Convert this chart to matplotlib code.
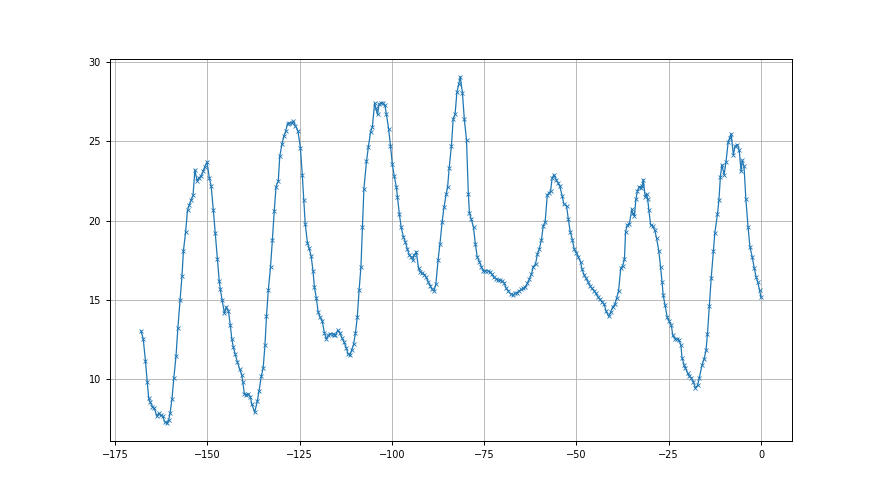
import matplotlib

matplotlib.use("Agg")
import matplotlib.pyplot as plt
import numpy as np

plt.rcParams.update(
    {
        "font.size": 7,
        "axes.linewidth": 0.7,
        "xtick.major.width": 0.7,
        "ytick.major.width": 0.7,
        "xtick.major.size": 3,
        "ytick.major.size": 3,
    }
)

# hours relative to now
hours = [
    -168.0, -167.4, -166.8, -166.3, -165.9, -165.5, -164.9, -164.4, -163.7, -163.2,
    -162.7, -162.1, -161.6, -161.0, -160.5, -160.1, -159.6, -159.1, -158.5, -158.0,
    -157.4, -156.9, -156.5, -155.9, -155.4, -154.9, -154.4, -153.9, -153.4, -152.8,
    -152.3, -151.7, -151.2, -150.7, -150.1, -149.5, -149.0, -148.4, -147.9, -147.3,
    -146.8, -146.5, -146.0, -145.4, -144.9, -144.3, -143.8, -143.4, -143.0, -142.5,
    -141.9, -141.3, -140.7, -140.4, -140.0, -139.5, -139.0, -138.4, -138.0, -137.2,
    -136.5, -136.0, -135.4, -134.9, -134.4, -134.0, -133.5, -132.9, -132.4, -131.9,
    -131.4, -130.8, -130.4, -129.8, -129.3, -128.8, -128.3, -127.8, -127.2, -126.7,
    -126.2, -125.5, -124.8, -124.3, -123.9, -123.5, -122.9, -122.5, -121.9, -121.4,
    -121.0, -120.5, -120.0, -119.5, -118.9, -118.3, -117.8, -117.2, -116.7, -116.1,
    -115.7, -115.3, -114.7, -114.1, -113.5, -113.0, -112.4, -111.9, -111.4, -110.9,
    -110.4, -109.9, -109.4, -108.9, -108.4, -108.0, -107.6, -106.9, -106.4, -105.8,
    -105.3, -104.7, -104.4, -103.9, -103.5, -102.9, -102.4, -101.9, -101.5, -100.9,
    -100.4, -99.9, -99.4, -98.8, -98.5, -98.0, -97.5, -96.9, -96.4, -95.8,
    -95.3, -94.8, -94.4, -93.9, -93.4, -92.8, -92.3, -91.8, -91.2, -90.7,
    -90.1, -89.6, -89.1, -88.6, -88.1, -87.5, -87.0, -86.4, -85.9, -85.3,
    -84.9, -84.5, -83.9, -83.4, -82.9, -82.4, -81.9, -81.5, -80.9, -80.4,
    -79.8, -79.3, -79.0, -78.5, -77.9, -77.4, -76.9, -76.3, -75.8, -75.2,
    -74.7, -74.1, -73.5, -72.9, -72.4, -71.8, -71.2, -70.7, -70.3, -69.6,
    -69.1, -68.5, -67.8, -67.1, -66.6, -66.0, -65.5, -64.9, -64.4, -63.9,
    -63.3, -62.8, -62.2, -61.7, -61.1, -60.6, -60.1, -59.5, -59.0, -58.5,
    -57.9, -57.4, -57.0, -56.6, -56.1, -55.5, -55.0, -54.5, -53.9, -53.4,
    -52.7, -52.2, -51.7, -51.1, -50.6, -50.0, -49.5, -48.9, -48.5, -47.9,
    -47.4, -46.9, -46.3, -45.8, -45.2, -44.7, -44.2, -43.6, -43.1, -42.5,
    -42.0, -41.3, -40.7, -40.2, -39.6, -39.1, -38.6, -38.0, -37.5, -37.0,
    -36.7, -36.2, -35.7, -35.0, -34.8, -34.3, -33.9, -33.5, -33.0, -32.6,
    -32.2, -31.9, -31.4, -31.0, -30.7, -30.4, -29.9, -29.4, -28.8, -28.3,
    -27.7, -27.2, -26.8, -26.5, -26.0, -25.4, -24.9, -24.3, -23.9, -23.4,
    -22.8, -22.3, -21.7, -21.4, -20.8, -20.5, -19.9, -19.4, -18.9, -18.3,
    -17.8, -17.2, -16.7, -16.0, -15.4, -14.9, -14.5, -14.0, -13.5, -12.9,
    -12.5, -11.8, -11.4, -11.0, -10.6, -10.0, -9.5, -8.9, -8.5, -8.1,
    -7.5, -7.0, -6.4, -5.9, -5.4, -5.1, -4.6, -4.1, -3.5, -3.0,
    -2.4, -1.8, -1.3, -0.9, -0.4, 0.0,
]

values = [
    13.05, 12.56, 11.17, 9.80, 8.79, 8.55, 8.28, 8.17, 7.67, 7.86,
    7.73, 7.67, 7.33, 7.23, 7.44, 7.90, 8.77, 10.10, 11.49, 13.26,
    14.99, 16.50, 18.10, 19.30, 20.66, 21.00, 21.30, 21.60, 23.20, 22.50,
    22.70, 22.80, 23.10, 23.40, 23.70, 22.70, 22.20, 20.66, 19.24, 17.58,
    16.19, 15.66, 14.99, 14.15, 14.56, 14.29, 13.40, 12.56, 12.03, 11.60,
    11.10, 10.67, 10.29, 9.82, 9.09, 9.02, 9.09, 8.91, 8.45, 7.92,
    8.60, 9.29, 10.20, 10.70, 12.18, 13.97, 15.62, 17.09, 18.78, 20.60,
    22.15, 22.51, 24.05, 24.83, 25.31, 25.63, 26.12, 26.16, 26.16, 26.26,
    25.99, 25.68, 24.58, 22.89, 21.30, 19.79, 18.61, 18.29, 17.77, 16.84,
    15.79, 15.13, 14.25, 13.93, 13.68, 12.92, 12.54, 12.77, 12.88, 12.86,
    12.80, 12.77, 13.09, 12.90, 12.60, 12.35, 12.00, 11.60, 11.51, 11.85,
    12.20, 12.90, 13.90, 15.62, 17.10, 19.62, 22.00, 23.73, 24.62, 25.59,
    25.91, 27.43, 27.11, 26.69, 27.32, 27.43, 27.39, 27.26, 26.69, 25.78,
    24.73, 23.57, 22.83, 22.11, 21.48, 20.42, 19.58, 18.99, 18.67, 18.19,
    17.83, 17.73, 17.52, 17.83, 18.04, 16.99, 16.78, 16.70, 16.60, 16.42,
    16.10, 15.90, 15.66, 15.57, 16.00, 17.52, 18.53, 19.92, 20.84, 21.67,
    22.15, 23.31, 24.68, 26.41, 26.69, 28.10, 28.59, 29.07, 28.06, 26.41,
    25.10, 21.67, 20.47, 20.09, 19.58, 18.53, 17.73, 17.41, 17.10, 16.84,
    16.84, 16.84, 16.78, 16.63, 16.42, 16.33, 16.25, 16.25, 16.21, 16.08,
    15.76, 15.56, 15.37, 15.30, 15.41, 15.45, 15.57, 15.66, 15.73, 15.79,
    16.04, 16.30, 16.63, 17.10, 17.25, 17.88, 18.19, 18.78, 19.67, 19.90,
    21.63, 21.73, 21.88, 22.68, 22.89, 22.58, 22.37, 22.16, 21.57, 21.04,
    20.93, 20.09, 19.31, 18.78, 18.19, 17.98, 17.70, 17.40, 16.93, 16.57,
    16.36, 16.15, 15.87, 15.73, 15.57, 15.41, 15.20, 15.03, 14.88, 14.73,
    14.31, 13.97, 14.25, 14.56, 14.73, 15.13, 15.57, 16.99, 17.14, 17.56,
    19.31, 19.73, 19.77, 20.72, 20.47, 20.30, 21.35, 21.84, 22.15, 22.05,
    22.20, 22.58, 21.52, 21.69, 21.35, 20.68, 19.73, 19.67, 19.41, 18.89,
    18.11, 17.05, 16.10, 15.30, 14.67, 13.90, 13.65, 13.40, 12.77, 12.56,
    12.56, 12.50, 12.14, 11.36, 10.88, 10.73, 10.39, 10.18, 10.10, 9.82,
    9.46, 9.61, 10.10, 10.88, 11.30, 11.82, 12.88, 14.61, 16.36, 18.10,
    19.24, 20.41, 21.30, 22.78, 23.53, 22.89, 23.67, 24.94, 25.20, 25.47,
    24.16, 24.68, 24.79, 24.43, 23.10, 23.80, 23.42, 21.35, 19.58, 18.36,
    17.73, 16.99, 16.42, 16.15, 15.62, 15.16,
]

fig, ax = plt.subplots(figsize=(8.8, 4.95), dpi=100)
ax.plot(np.array(hours), np.array(values), color="#1f77b4", lw=0.9,
        marker="x", ms=3.5, mew=0.6)
ax.grid(True, color="#b0b0b0", lw=0.6)

fig.savefig("out.png", dpi=100)
